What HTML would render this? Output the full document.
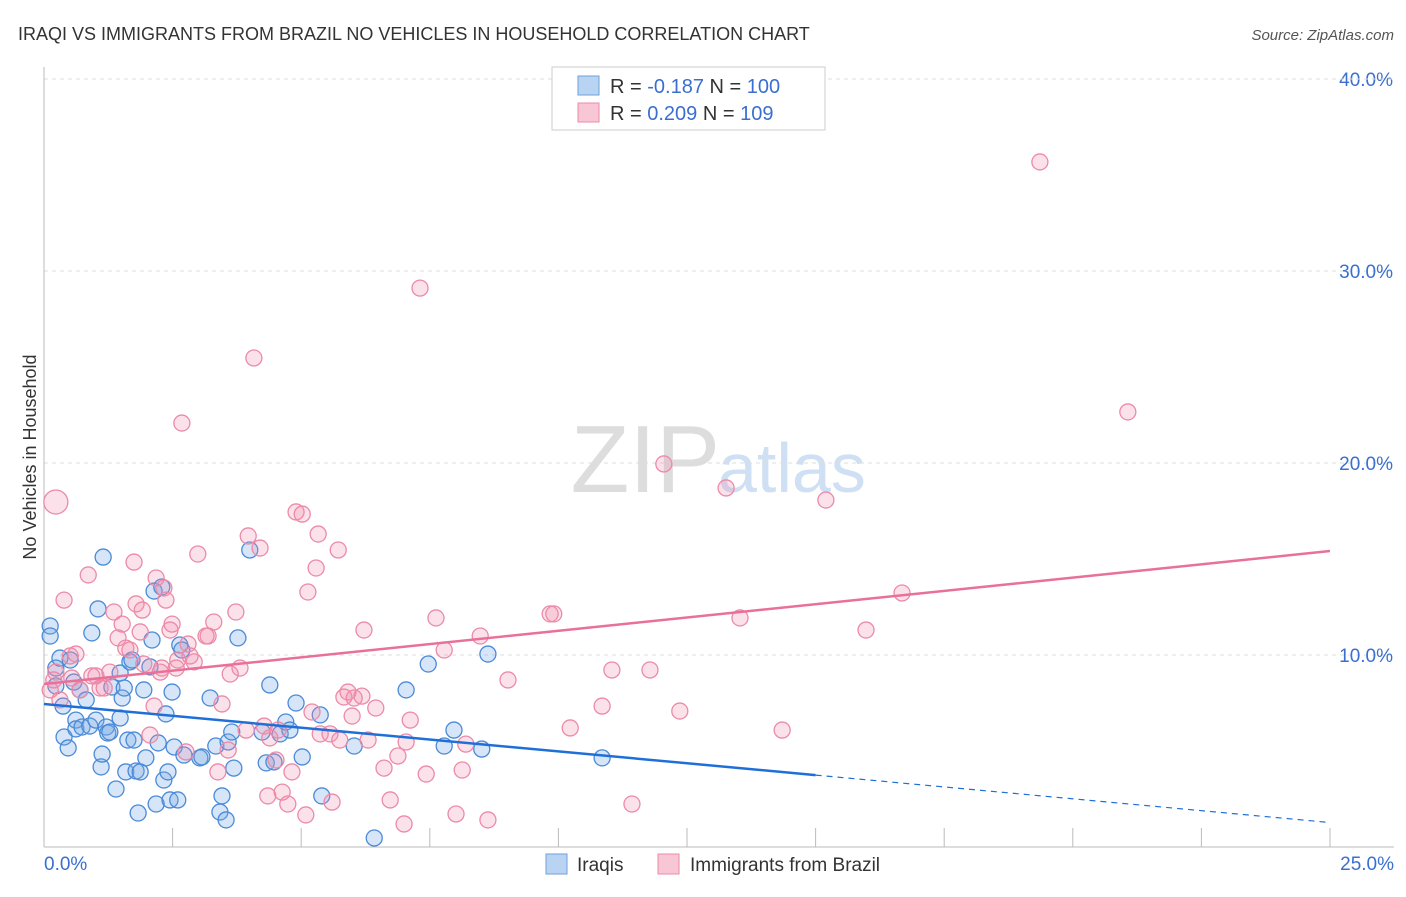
<!DOCTYPE html>
<html><head><meta charset="utf-8"><style>
body{margin:0;background:#fff;font-family:"Liberation Sans",sans-serif}
svg text{font-family:"Liberation Sans",sans-serif}
</style></head><body>
<svg id="c" width="1406" height="892">
<text x="18" y="40" font-size="18" fill="#333">IRAQI VS IMMIGRANTS FROM BRAZIL NO VEHICLES IN HOUSEHOLD CORRELATION CHART</text>
<text x="1394" y="40" font-size="15" fill="#555" font-style="italic" text-anchor="end">Source: ZipAtlas.com</text>
<text x="36" y="457" font-size="18" fill="#333" text-anchor="middle" transform="rotate(-90 36 457)">No Vehicles in Household</text>
<text x="720" y="492" font-size="96" fill="#ddd" text-anchor="end" font-family="Liberation Serif">ZIP</text>
<text x="718" y="492" font-size="70" fill="#cfe0f4">atlas</text>
<g id="grid"></g><g id="pts"></g><g id="lines"></g>
<g>
<rect x="552" y="67" width="273" height="63" fill="#fff" stroke="#ccc"/>
<rect x="578" y="76" width="21" height="19" fill="#b9d4f3" stroke="#6f9fd8"/>
<text x="610" y="93" font-size="20" fill="#333">R = <tspan fill="#3a6fd0">-0.187</tspan>   N = <tspan fill="#3a6fd0">100</tspan></text>
<rect x="578" y="103" width="21" height="19" fill="#f8c7d5" stroke="#ec8aa8"/>
<text x="610" y="120" font-size="20" fill="#333">R =  <tspan fill="#3a6fd0">0.209</tspan>   N = <tspan fill="#3a6fd0">109</tspan></text>
</g>
<g>
<rect x="546" y="854" width="21" height="20" fill="#b9d4f3" stroke="#6f9fd8"/>
<text x="577" y="871" font-size="19" fill="#333">Iraqis</text>
<rect x="658" y="854" width="21" height="20" fill="#f8c7d5" stroke="#ec8aa8"/>
<text x="690" y="871" font-size="19" fill="#333">Immigrants from Brazil</text>
</g>
</svg>
<script>
const yTicks=[10,20,30,40];
const xTickLabels=["0.0%","25.0%"];
const blueX=[0.12,0.12,0.23,0.23,0.31,0.37,0.39,0.47,0.51,0.58,0.62,0.62,0.70,0.74,0.82,0.89,0.93,1.01,1.05,1.11,1.13,1.15,1.21,1.24,1.28,1.32,1.40,1.48,1.48,1.52,1.56,1.59,1.63,1.67,1.71,1.75,1.79,1.83,1.87,1.94,1.98,2.06,2.10,2.14,2.18,2.22,2.29,2.33,2.37,2.41,2.45,2.49,2.53,2.60,2.64,2.68,2.72,3.03,3.07,3.23,3.34,3.42,3.46,3.54,3.58,3.65,3.69,3.77,4.00,4.24,4.32,4.39,4.47,4.59,4.70,4.78,4.90,5.02,5.37,5.40,6.03,6.42,7.04,7.47,7.78,7.97,8.51,8.63,10.85];
const blueY=[11.51,10.99,9.32,8.39,9.84,7.34,5.73,5.16,9.74,8.59,6.61,6.15,8.18,6.25,7.66,6.30,11.15,6.61,12.40,4.17,4.84,15.10,6.25,5.94,5.99,8.33,3.02,9.06,6.72,7.76,8.28,3.91,5.57,9.64,9.74,5.57,3.96,1.77,3.91,8.18,4.64,9.38,10.78,13.33,2.24,5.42,13.54,3.49,6.93,3.91,2.45,8.07,5.21,2.45,10.52,10.26,4.79,4.64,4.69,7.76,5.26,1.82,2.66,1.41,5.47,5.99,4.11,10.89,15.47,5.99,4.38,8.44,4.43,5.89,6.51,6.09,7.50,4.69,6.88,2.66,5.26,0.47,8.18,9.53,5.26,6.09,5.10,10.05,4.64];
const pinkX=[0.23,0.12,0.19,0.23,0.31,0.39,0.51,0.54,0.62,0.70,0.86,0.93,1.01,1.09,1.17,1.28,1.36,1.44,1.52,1.59,1.67,1.75,1.79,1.87,1.91,1.94,2.06,2.14,2.18,2.26,2.29,2.33,2.37,2.45,2.49,2.57,2.60,2.68,2.76,2.80,2.84,2.92,2.99,3.15,3.19,3.30,3.38,3.46,3.58,3.62,3.73,3.81,3.93,3.97,4.08,4.20,4.28,4.35,4.39,4.51,4.55,4.63,4.74,4.82,4.90,5.02,5.09,5.13,5.21,5.29,5.33,5.37,5.56,5.60,5.72,5.75,5.83,5.91,5.99,6.03,6.18,6.22,6.30,6.45,6.61,6.73,6.88,7.00,7.04,7.12,7.31,7.43,7.62,7.78,8.01,8.13,8.20,8.48,8.63,9.02,9.84,9.91,10.23,10.85,11.04,11.43,11.78,12.05,12.36,13.26,13.53,14.35,15.20,15.98,16.68,19.36,21.07];
const pinkY=[17.97,8.18,8.70,9.11,7.66,12.86,9.95,8.80,10.05,8.18,14.17,8.91,8.91,8.28,8.28,9.11,12.24,10.89,11.61,10.36,10.26,14.84,12.66,11.20,12.34,9.53,5.83,7.34,14.01,9.11,9.32,13.49,12.86,11.30,11.61,9.32,9.74,22.08,4.95,10.57,9.95,9.64,15.26,10.99,10.99,11.72,3.91,7.45,5.05,9.01,12.24,9.32,6.09,16.20,25.47,15.57,6.30,2.66,5.68,4.53,6.09,2.86,2.24,3.91,17.45,17.34,1.67,13.28,7.03,14.53,16.30,5.89,5.89,2.34,15.47,5.57,7.81,8.07,6.82,7.76,7.86,11.30,5.57,7.24,4.11,2.45,4.74,1.20,5.47,6.61,29.11,3.80,11.93,10.26,1.72,4.01,5.36,10.99,1.41,8.70,12.14,12.14,6.20,7.34,9.22,2.24,9.22,19.95,7.08,18.70,11.93,6.09,18.07,11.30,13.23,35.68,22.66];
const blueTrend=[7.45,-0.247]; const blueSolidEnd=15; const blueDashEnd=25;
const pinkTrend=[8.49,0.277];
const X=v=>44+v*(1286/25), Y=v=>847-v*19.2;
const NS="http://www.w3.org/2000/svg";
function mk(t,a,p){const e=document.createElementNS(NS,t);for(const k in a)e.setAttribute(k,a[k]);p.appendChild(e);return e;}
const g=document.getElementById('grid');
yTicks.forEach(t=>{const l=mk('line',{x1:44,x2:1394,y1:Y(t),y2:Y(t),stroke:'#ddd','stroke-dasharray':'4,4'},g);


const tx=mk('text',{x:1393,y:Y(t)+7,'font-size':19,fill:'#3a6fd0','text-anchor':'end'},g);tx.textContent=t.toFixed(1)+'%';

});
const tl=mk('line',{x1:44,x2:1394,y1:Y(40),y2:Y(40),stroke:'#ddd','stroke-dasharray':'4,4'},g);
const ax=mk('line',{x1:44,x2:1394,y1:847,y2:847,stroke:'#bbb'},g);


const ay=mk('line',{x1:44,x2:44,y1:67,y2:847,stroke:'#bbb'},g);


for(let i=1;i<=10;i++){const t=mk('line',{x1:X(i*2.5),x2:X(i*2.5),y1:828,y2:847,stroke:'#bbb'},g);

}
[[0,'start',44],[25,'end',1394]].forEach((d,i)=>{const t=mk('text',{x:d[2],y:870,'font-size':19,fill:'#3a6fd0','text-anchor':d[1]},g);t.textContent=xTickLabels[i];

});
const p=document.getElementById('pts');
blueX.forEach((x,i)=>{const c=mk('circle',{cx:X(x),cy:Y(blueY[i]),r:8,fill:'rgba(120,170,230,0.3)',stroke:'#4a8ad8','stroke-width':1.3},p);

});
pinkX.forEach((x,i)=>{const c=mk('circle',{cx:X(x),cy:Y(pinkY[i]),r:i===0?12:8,fill:'rgba(240,140,170,0.25)',stroke:'#ec8aa8','stroke-width':1.3},p);

});
const L=document.getElementById('lines');
const b1=mk('line',{x1:X(0),y1:Y(blueTrend[0]),x2:X(blueSolidEnd),y2:Y(blueTrend[0]+blueTrend[1]*blueSolidEnd),stroke:'#1f6fd8','stroke-width':2.5},L);


const b2=mk('line',{x1:X(blueSolidEnd),y1:Y(blueTrend[0]+blueTrend[1]*blueSolidEnd),x2:X(blueDashEnd),y2:Y(blueTrend[0]+blueTrend[1]*blueDashEnd),stroke:'#1f6fd8','stroke-width':1.2,'stroke-dasharray':'6,5'},L);


const pl=mk('line',{x1:X(0),y1:Y(pinkTrend[0]),x2:X(25),y2:Y(pinkTrend[0]+pinkTrend[1]*25),stroke:'#e8709a','stroke-width':2.5},L);


</script>
</body></html>
